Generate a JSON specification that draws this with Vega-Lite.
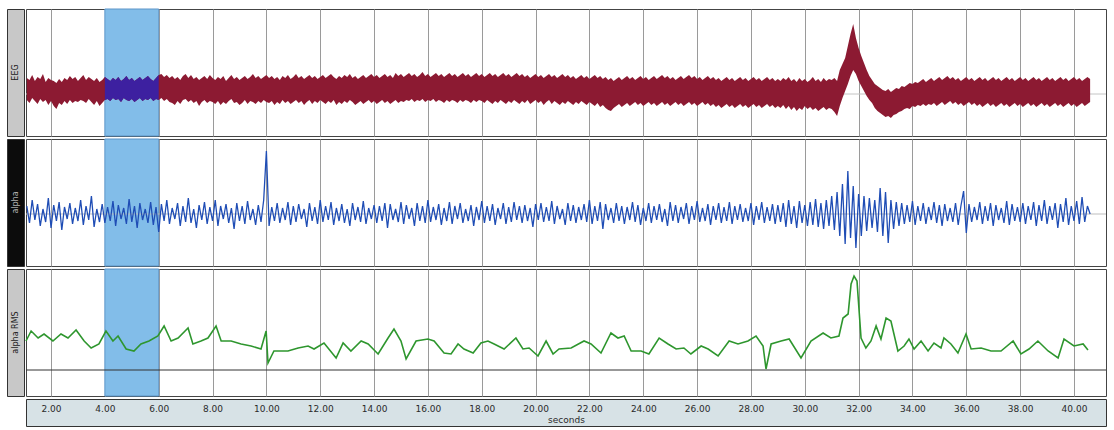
{
  "$schema": "https://vega.github.io/schema/vega-lite/v6.json",
  "padding": {"left": 6, "top": 8, "right": 3, "bottom": 5},
  "background": "white",
  "bounds": "flush",
  "columns": 2,
  "spacing": {"row": 3, "column": 2},
  "config": {"font": "DejaVu Sans"},
  "datasets": {
    "band": [{"start": 4, "end": 6}],
    "s": [
{"t":1.1,"h":58,"l":36,"a":60},{"t":1.2,"h":56,"l":33,"a":43},{"t":1.3,"h":61,"l":38,"a":66},{"t":1.4,"h":55,"l":35,"a":46},{"t":1.5,"h":59,"l":32,"a":62},{"t":1.6,"h":57,"l":37,"a":40},{"t":1.7,"h":62,"l":34,"a":57},{"t":1.8,"h":54,"l":36,"a":44},{"t":1.9,"h":58,"l":31,"a":68},{"t":2.0,"h":56,"l":35,"a":38},
{"t":2.1,"h":55,"l":30,"a":61},{"t":2.2,"h":53,"l":27,"a":45},{"t":2.3,"h":57,"l":33,"a":64},{"t":2.4,"h":54,"l":31,"a":36},{"t":2.5,"h":58,"l":35,"a":59},{"t":2.6,"h":56,"l":32,"a":47},{"t":2.7,"h":60,"l":36,"a":63},{"t":2.8,"h":57,"l":33,"a":42},{"t":2.9,"h":59,"l":35,"a":58},{"t":3.0,"h":55,"l":34,"a":45},
{"t":3.1,"h":58,"l":36,"a":66},{"t":3.2,"h":61,"l":35,"a":41},{"t":3.3,"h":56,"l":33,"a":60},{"t":3.4,"h":59,"l":37,"a":46},{"t":3.5,"h":57,"l":34,"a":70},{"t":3.6,"h":55,"l":31,"a":39},{"t":3.7,"h":58,"l":35,"a":57},{"t":3.8,"h":54,"l":30,"a":44},{"t":3.9,"h":56,"l":33,"a":62},{"t":4.0,"h":59,"l":36,"a":43},
{"t":4.1,"h":57,"l":37,"a":59},{"t":4.2,"h":55,"l":35,"a":45},{"t":4.3,"h":58,"l":38,"a":65},{"t":4.4,"h":56,"l":36,"a":40},{"t":4.5,"h":59,"l":37,"a":61},{"t":4.6,"h":55,"l":34,"a":47},{"t":4.7,"h":57,"l":38,"a":58},{"t":4.8,"h":60,"l":36,"a":42},{"t":4.9,"h":56,"l":35,"a":67},{"t":5.0,"h":58,"l":37,"a":44},
{"t":5.1,"h":55,"l":34,"a":60},{"t":5.2,"h":57,"l":36,"a":38},{"t":5.3,"h":59,"l":38,"a":63},{"t":5.4,"h":56,"l":35,"a":46},{"t":5.5,"h":58,"l":37,"a":57},{"t":5.6,"h":60,"l":36,"a":43},{"t":5.7,"h":57,"l":38,"a":64},{"t":5.8,"h":55,"l":35,"a":41},{"t":5.9,"h":58,"l":37,"a":59},{"t":6.0,"h":61,"l":36,"a":34},
{"t":6.1,"h":62,"l":38,"a":62},{"t":6.2,"h":59,"l":35,"a":45},{"t":6.3,"h":61,"l":37,"a":66},{"t":6.4,"h":58,"l":34,"a":42},{"t":6.5,"h":60,"l":33,"a":58},{"t":6.6,"h":57,"l":31,"a":47},{"t":6.7,"h":59,"l":35,"a":63},{"t":6.8,"h":56,"l":32,"a":40},{"t":6.9,"h":60,"l":36,"a":60},{"t":7.0,"h":62,"l":37,"a":44},
{"t":7.1,"h":58,"l":34,"a":68},{"t":7.2,"h":61,"l":36,"a":43},{"t":7.3,"h":57,"l":33,"a":57},{"t":7.4,"h":59,"l":35,"a":38},{"t":7.5,"h":56,"l":30,"a":61},{"t":7.6,"h":58,"l":34,"a":46},{"t":7.7,"h":60,"l":36,"a":64},{"t":7.8,"h":57,"l":33,"a":42},{"t":7.9,"h":61,"l":35,"a":59},{"t":8.0,"h":58,"l":34,"a":45},
{"t":8.1,"h":56,"l":32,"a":66},{"t":8.2,"h":59,"l":35,"a":40},{"t":8.3,"h":57,"l":31,"a":60},{"t":8.4,"h":60,"l":34,"a":47},{"t":8.5,"h":55,"l":32,"a":62},{"t":8.6,"h":58,"l":35,"a":43},{"t":8.7,"h":61,"l":37,"a":58},{"t":8.8,"h":57,"l":33,"a":37},{"t":8.9,"h":59,"l":34,"a":63},{"t":9.0,"h":56,"l":31,"a":45},
{"t":9.1,"h":58,"l":33,"a":60},{"t":9.2,"h":60,"l":36,"a":42},{"t":9.3,"h":57,"l":32,"a":65},{"t":9.4,"h":59,"l":35,"a":46},{"t":9.5,"h":62,"l":34,"a":57},{"t":9.6,"h":58,"l":32,"a":41},{"t":9.7,"h":60,"l":35,"a":61},{"t":9.8,"h":57,"l":33,"a":44},{"t":9.9,"h":59,"l":36,"a":66},{"t":10.0,"h":61,"l":34,"a":115},
{"t":10.1,"h":58,"l":33,"a":40},{"t":10.2,"h":60,"l":35,"a":59},{"t":10.3,"h":57,"l":31,"a":45},{"t":10.4,"h":59,"l":34,"a":63},{"t":10.5,"h":56,"l":32,"a":43},{"t":10.6,"h":60,"l":36,"a":58},{"t":10.7,"h":58,"l":33,"a":46},{"t":10.8,"h":61,"l":35,"a":64},{"t":10.9,"h":57,"l":32,"a":41},{"t":11.0,"h":59,"l":34,"a":60},
{"t":11.1,"h":62,"l":36,"a":44},{"t":11.2,"h":58,"l":33,"a":62},{"t":11.3,"h":60,"l":35,"a":47},{"t":11.4,"h":57,"l":31,"a":57},{"t":11.5,"h":59,"l":34,"a":39},{"t":11.6,"h":61,"l":36,"a":63},{"t":11.7,"h":58,"l":32,"a":45},{"t":11.8,"h":60,"l":35,"a":59},{"t":11.9,"h":57,"l":33,"a":42},{"t":12.0,"h":59,"l":36,"a":66},
{"t":12.1,"h":61,"l":34,"a":44},{"t":12.2,"h":58,"l":32,"a":60},{"t":12.3,"h":60,"l":35,"a":46},{"t":12.4,"h":62,"l":33,"a":64},{"t":12.5,"h":59,"l":36,"a":41},{"t":12.6,"h":57,"l":31,"a":58},{"t":12.7,"h":60,"l":34,"a":45},{"t":12.8,"h":58,"l":32,"a":62},{"t":12.9,"h":61,"l":35,"a":43},{"t":13.0,"h":59,"l":33,"a":57},
{"t":13.1,"h":62,"l":36,"a":40},{"t":13.2,"h":58,"l":34,"a":63},{"t":13.3,"h":60,"l":31,"a":46},{"t":13.4,"h":57,"l":33,"a":59},{"t":13.5,"h":59,"l":35,"a":44},{"t":13.6,"h":61,"l":32,"a":65},{"t":13.7,"h":58,"l":34,"a":42},{"t":13.8,"h":60,"l":36,"a":58},{"t":13.9,"h":62,"l":33,"a":47},{"t":14.0,"h":59,"l":35,"a":61},
{"t":14.1,"h":61,"l":32,"a":43},{"t":14.2,"h":58,"l":34,"a":60},{"t":14.3,"h":60,"l":36,"a":45},{"t":14.4,"h":62,"l":33,"a":63},{"t":14.5,"h":59,"l":35,"a":38},{"t":14.6,"h":61,"l":32,"a":62},{"t":14.7,"h":58,"l":34,"a":46},{"t":14.8,"h":63,"l":36,"a":57},{"t":14.9,"h":60,"l":33,"a":44},{"t":15.0,"h":62,"l":35,"a":64},
{"t":15.1,"h":59,"l":34,"a":42},{"t":15.2,"h":61,"l":36,"a":61},{"t":15.3,"h":63,"l":35,"a":47},{"t":15.4,"h":60,"l":37,"a":58},{"t":15.5,"h":62,"l":34,"a":40},{"t":15.6,"h":59,"l":36,"a":63},{"t":15.7,"h":61,"l":35,"a":45},{"t":15.8,"h":64,"l":37,"a":60},{"t":15.9,"h":60,"l":34,"a":43},{"t":16.0,"h":62,"l":36,"a":66},
{"t":16.1,"h":59,"l":35,"a":44},{"t":16.2,"h":61,"l":37,"a":59},{"t":16.3,"h":63,"l":34,"a":46},{"t":16.4,"h":60,"l":36,"a":62},{"t":16.5,"h":62,"l":35,"a":41},{"t":16.6,"h":59,"l":33,"a":58},{"t":16.7,"h":61,"l":36,"a":45},{"t":16.8,"h":63,"l":34,"a":64},{"t":16.9,"h":60,"l":36,"a":42},{"t":17.0,"h":62,"l":35,"a":60},
{"t":17.1,"h":59,"l":33,"a":47},{"t":17.2,"h":61,"l":36,"a":63},{"t":17.3,"h":63,"l":34,"a":43},{"t":17.4,"h":60,"l":36,"a":57},{"t":17.5,"h":62,"l":35,"a":45},{"t":17.6,"h":59,"l":33,"a":61},{"t":17.7,"h":61,"l":36,"a":40},{"t":17.8,"h":63,"l":34,"a":59},{"t":17.9,"h":60,"l":36,"a":46},{"t":18.0,"h":62,"l":35,"a":65},
{"t":18.1,"h":59,"l":33,"a":43},{"t":18.2,"h":61,"l":36,"a":60},{"t":18.3,"h":63,"l":34,"a":45},{"t":18.4,"h":60,"l":32,"a":62},{"t":18.5,"h":62,"l":35,"a":41},{"t":18.6,"h":59,"l":33,"a":58},{"t":18.7,"h":61,"l":36,"a":47},{"t":18.8,"h":63,"l":34,"a":63},{"t":18.9,"h":60,"l":32,"a":42},{"t":19.0,"h":62,"l":35,"a":59},
{"t":19.1,"h":59,"l":33,"a":44},{"t":19.2,"h":61,"l":36,"a":64},{"t":19.3,"h":63,"l":34,"a":46},{"t":19.4,"h":60,"l":32,"a":60},{"t":19.5,"h":62,"l":35,"a":43},{"t":19.6,"h":59,"l":33,"a":61},{"t":19.7,"h":61,"l":36,"a":45},{"t":19.8,"h":58,"l":32,"a":58},{"t":19.9,"h":60,"l":34,"a":39},{"t":20.0,"h":62,"l":36,"a":62},
{"t":20.1,"h":59,"l":33,"a":46},{"t":20.2,"h":61,"l":35,"a":63},{"t":20.3,"h":58,"l":31,"a":44},{"t":20.4,"h":60,"l":34,"a":59},{"t":20.5,"h":62,"l":36,"a":45},{"t":20.6,"h":59,"l":32,"a":65},{"t":20.7,"h":61,"l":35,"a":42},{"t":20.8,"h":58,"l":33,"a":60},{"t":20.9,"h":60,"l":31,"a":47},{"t":21.0,"h":62,"l":34,"a":57},
{"t":21.1,"h":59,"l":32,"a":41},{"t":21.2,"h":61,"l":35,"a":63},{"t":21.3,"h":58,"l":33,"a":45},{"t":21.4,"h":60,"l":31,"a":61},{"t":21.5,"h":57,"l":34,"a":43},{"t":21.6,"h":59,"l":32,"a":59},{"t":21.7,"h":61,"l":35,"a":46},{"t":21.8,"h":58,"l":33,"a":62},{"t":21.9,"h":60,"l":31,"a":44},{"t":22.0,"h":57,"l":34,"a":66},
{"t":22.1,"h":59,"l":32,"a":42},{"t":22.2,"h":61,"l":30,"a":60},{"t":22.3,"h":58,"l":33,"a":45},{"t":22.4,"h":60,"l":29,"a":64},{"t":22.5,"h":57,"l":31,"a":37},{"t":22.6,"h":59,"l":28,"a":62},{"t":22.7,"h":56,"l":26,"a":46},{"t":22.8,"h":58,"l":25,"a":58},{"t":22.9,"h":55,"l":28,"a":43},{"t":23.0,"h":57,"l":30,"a":63},
{"t":23.1,"h":59,"l":32,"a":45},{"t":23.2,"h":56,"l":29,"a":60},{"t":23.3,"h":58,"l":31,"a":42},{"t":23.4,"h":60,"l":33,"a":59},{"t":23.5,"h":57,"l":30,"a":46},{"t":23.6,"h":59,"l":32,"a":64},{"t":23.7,"h":56,"l":34,"a":44},{"t":23.8,"h":58,"l":31,"a":61},{"t":23.9,"h":60,"l":33,"a":41},{"t":24.0,"h":57,"l":30,"a":58},
{"t":24.1,"h":59,"l":32,"a":45},{"t":24.2,"h":56,"l":34,"a":63},{"t":24.3,"h":58,"l":31,"a":43},{"t":24.4,"h":60,"l":33,"a":60},{"t":24.5,"h":57,"l":30,"a":46},{"t":24.6,"h":59,"l":32,"a":62},{"t":24.7,"h":61,"l":34,"a":44},{"t":24.8,"h":58,"l":31,"a":57},{"t":24.9,"h":60,"l":33,"a":40},{"t":25.0,"h":57,"l":30,"a":64},
{"t":25.1,"h":59,"l":32,"a":45},{"t":25.2,"h":56,"l":34,"a":61},{"t":25.3,"h":58,"l":31,"a":43},{"t":25.4,"h":60,"l":33,"a":59},{"t":25.5,"h":57,"l":30,"a":47},{"t":25.6,"h":59,"l":32,"a":63},{"t":25.7,"h":61,"l":34,"a":42},{"t":25.8,"h":58,"l":31,"a":60},{"t":25.9,"h":60,"l":33,"a":46},{"t":26.0,"h":57,"l":30,"a":65},
{"t":26.1,"h":59,"l":32,"a":44},{"t":26.2,"h":56,"l":34,"a":58},{"t":26.3,"h":58,"l":31,"a":45},{"t":26.4,"h":60,"l":33,"a":62},{"t":26.5,"h":57,"l":30,"a":41},{"t":26.6,"h":59,"l":32,"a":60},{"t":26.7,"h":56,"l":29,"a":46},{"t":26.8,"h":58,"l":31,"a":63},{"t":26.9,"h":55,"l":28,"a":43},{"t":27.0,"h":57,"l":30,"a":59},
{"t":27.1,"h":59,"l":32,"a":45},{"t":27.2,"h":56,"l":29,"a":64},{"t":27.3,"h":58,"l":31,"a":42},{"t":27.4,"h":55,"l":28,"a":60},{"t":27.5,"h":57,"l":30,"a":46},{"t":27.6,"h":59,"l":32,"a":62},{"t":27.7,"h":56,"l":29,"a":44},{"t":27.8,"h":58,"l":31,"a":58},{"t":27.9,"h":55,"l":28,"a":45},{"t":28.0,"h":57,"l":30,"a":63},
{"t":28.1,"h":59,"l":32,"a":41},{"t":28.2,"h":56,"l":29,"a":60},{"t":28.3,"h":58,"l":31,"a":46},{"t":28.4,"h":55,"l":28,"a":64},{"t":28.5,"h":57,"l":30,"a":43},{"t":28.6,"h":59,"l":32,"a":59},{"t":28.7,"h":56,"l":29,"a":45},{"t":28.8,"h":58,"l":31,"a":62},{"t":28.9,"h":55,"l":28,"a":42},{"t":29.0,"h":57,"l":30,"a":61},
{"t":29.1,"h":55,"l":28,"a":44},{"t":29.2,"h":58,"l":31,"a":63},{"t":29.3,"h":56,"l":27,"a":39},{"t":29.4,"h":59,"l":30,"a":66},{"t":29.5,"h":55,"l":26,"a":42},{"t":29.6,"h":57,"l":29,"a":60},{"t":29.7,"h":54,"l":25,"a":38},{"t":29.8,"h":58,"l":28,"a":65},{"t":29.9,"h":55,"l":26,"a":43},{"t":30.0,"h":57,"l":30,"a":61},
{"t":30.1,"h":54,"l":27,"a":40},{"t":30.2,"h":56,"l":29,"a":64},{"t":30.3,"h":59,"l":26,"a":41},{"t":30.4,"h":55,"l":28,"a":67},{"t":30.5,"h":57,"l":25,"a":39},{"t":30.6,"h":54,"l":27,"a":63},{"t":30.7,"h":58,"l":29,"a":37},{"t":30.8,"h":55,"l":26,"a":66},{"t":30.9,"h":57,"l":28,"a":40},{"t":31.0,"h":56,"l":27,"a":70},
{"t":31.1,"h":58,"l":24,"a":36},{"t":31.2,"h":55,"l":20,"a":74},{"t":31.3,"h":66,"l":30,"a":30},{"t":31.4,"h":72,"l":38,"a":82},{"t":31.5,"h":78,"l":45,"a":22},{"t":31.6,"h":90,"l":52,"a":95},{"t":31.7,"h":102,"l":60,"a":28},{"t":31.8,"h":112,"l":66,"a":80},{"t":31.9,"h":98,"l":62,"a":18},{"t":32.0,"h":88,"l":55,"a":72},
{"t":32.1,"h":80,"l":50,"a":30},{"t":32.2,"h":73,"l":45,"a":70},{"t":32.3,"h":66,"l":40,"a":35},{"t":32.4,"h":60,"l":36,"a":68},{"t":32.5,"h":56,"l":33,"a":38},{"t":32.6,"h":52,"l":28,"a":66},{"t":32.7,"h":50,"l":25,"a":34},{"t":32.8,"h":48,"l":23,"a":78},{"t":32.9,"h":46,"l":21,"a":30},{"t":33.0,"h":45,"l":19,"a":74},
{"t":33.1,"h":47,"l":20,"a":23},{"t":33.2,"h":44,"l":18,"a":66},{"t":33.3,"h":46,"l":21,"a":37},{"t":33.4,"h":48,"l":22,"a":64},{"t":33.5,"h":47,"l":24,"a":40},{"t":33.6,"h":50,"l":25,"a":63},{"t":33.7,"h":49,"l":27,"a":42},{"t":33.8,"h":51,"l":28,"a":61},{"t":33.9,"h":53,"l":27,"a":44},{"t":34.0,"h":52,"l":30,"a":65},
{"t":34.1,"h":54,"l":29,"a":41},{"t":34.2,"h":53,"l":31,"a":60},{"t":34.3,"h":55,"l":30,"a":45},{"t":34.4,"h":57,"l":32,"a":63},{"t":34.5,"h":54,"l":30,"a":42},{"t":34.6,"h":56,"l":32,"a":59},{"t":34.7,"h":58,"l":31,"a":46},{"t":34.8,"h":55,"l":33,"a":64},{"t":34.9,"h":57,"l":30,"a":43},{"t":35.0,"h":59,"l":32,"a":61},
{"t":35.1,"h":56,"l":34,"a":40},{"t":35.2,"h":58,"l":31,"a":62},{"t":35.3,"h":60,"l":33,"a":45},{"t":35.4,"h":57,"l":35,"a":58},{"t":35.5,"h":59,"l":32,"a":44},{"t":35.6,"h":56,"l":34,"a":63},{"t":35.7,"h":58,"l":31,"a":41},{"t":35.8,"h":55,"l":33,"a":60},{"t":35.9,"h":57,"l":30,"a":75},{"t":36.0,"h":59,"l":32,"a":33},
{"t":36.1,"h":56,"l":34,"a":62},{"t":36.2,"h":58,"l":31,"a":44},{"t":36.3,"h":55,"l":33,"a":59},{"t":36.4,"h":57,"l":30,"a":46},{"t":36.5,"h":59,"l":32,"a":64},{"t":36.6,"h":56,"l":29,"a":42},{"t":36.7,"h":58,"l":31,"a":60},{"t":36.8,"h":55,"l":33,"a":45},{"t":36.9,"h":57,"l":30,"a":63},{"t":37.0,"h":59,"l":32,"a":40},
{"t":37.1,"h":56,"l":29,"a":61},{"t":37.2,"h":58,"l":31,"a":46},{"t":37.3,"h":55,"l":33,"a":58},{"t":37.4,"h":57,"l":30,"a":43},{"t":37.5,"h":59,"l":32,"a":65},{"t":37.6,"h":56,"l":29,"a":41},{"t":37.7,"h":58,"l":31,"a":62},{"t":37.8,"h":55,"l":33,"a":45},{"t":37.9,"h":57,"l":30,"a":59},{"t":38.0,"h":59,"l":32,"a":44},
{"t":38.1,"h":56,"l":29,"a":63},{"t":38.2,"h":58,"l":31,"a":42},{"t":38.3,"h":55,"l":33,"a":60},{"t":38.4,"h":57,"l":30,"a":46},{"t":38.5,"h":59,"l":32,"a":64},{"t":38.6,"h":56,"l":29,"a":40},{"t":38.7,"h":58,"l":31,"a":61},{"t":38.8,"h":55,"l":33,"a":45},{"t":38.9,"h":57,"l":30,"a":66},{"t":39.0,"h":59,"l":32,"a":42},
{"t":39.1,"h":56,"l":29,"a":60},{"t":39.2,"h":58,"l":31,"a":46},{"t":39.3,"h":55,"l":33,"a":63},{"t":39.4,"h":57,"l":30,"a":38},{"t":39.5,"h":59,"l":32,"a":62},{"t":39.6,"h":56,"l":29,"a":44},{"t":39.7,"h":58,"l":31,"a":68},{"t":39.8,"h":55,"l":33,"a":41},{"t":39.9,"h":57,"l":30,"a":60},{"t":40.0,"h":59,"l":32,"a":45},
{"t":40.1,"h":56,"l":29,"a":65},{"t":40.2,"h":58,"l":31,"a":42},{"t":40.3,"h":55,"l":33,"a":69},{"t":40.4,"h":57,"l":30,"a":44},{"t":40.5,"h":59,"l":32,"a":60},{"t":40.6,"h":57,"l":34,"a":52}
    ],
    "r": [
{"t":1.07,"v":57},{"t":1.26,"v":67},{"t":1.52,"v":60},{"t":1.74,"v":64},{"t":2.07,"v":57},{"t":2.37,"v":64},{"t":2.63,"v":60},{"t":2.93,"v":68},{"t":3.23,"v":57},{"t":3.49,"v":50},{"t":3.78,"v":54},{"t":4.04,"v":67},{"t":4.3,"v":57},{"t":4.49,"v":62},{"t":4.79,"v":49},{"t":5.08,"v":47},{"t":5.34,"v":54},{"t":5.64,"v":57},{"t":5.97,"v":62},{"t":6.2,"v":72},{"t":6.46,"v":57},{"t":6.72,"v":60},{"t":7.09,"v":70},{"t":7.27,"v":54},{"t":7.57,"v":57},{"t":7.83,"v":60},{"t":8.13,"v":72},{"t":8.32,"v":57},{"t":8.69,"v":57},{"t":9.06,"v":54},{"t":9.43,"v":52},{"t":9.8,"v":49},{"t":9.99,"v":67},{"t":10.06,"v":35},{"t":10.28,"v":47},{"t":10.8,"v":47},{"t":11.18,"v":50},{"t":11.55,"v":52},{"t":11.77,"v":49},{"t":12.14,"v":55},{"t":12.59,"v":40},{"t":12.85,"v":55},{"t":13.14,"v":47},{"t":13.52,"v":57},{"t":13.78,"v":54},{"t":14.15,"v":44},{"t":14.52,"v":60},{"t":14.74,"v":69},{"t":15.0,"v":57},{"t":15.19,"v":39},{"t":15.56,"v":57},{"t":16.0,"v":59},{"t":16.23,"v":57},{"t":16.6,"v":45},{"t":16.86,"v":44},{"t":17.12,"v":54},{"t":17.34,"v":49},{"t":17.68,"v":45},{"t":17.97,"v":55},{"t":18.23,"v":57},{"t":18.46,"v":54},{"t":18.83,"v":49},{"t":19.27,"v":60},{"t":19.53,"v":49},{"t":19.76,"v":50},{"t":20.09,"v":42},{"t":20.39,"v":57},{"t":20.65,"v":44},{"t":20.87,"v":49},{"t":21.32,"v":50},{"t":21.8,"v":57},{"t":22.06,"v":54},{"t":22.43,"v":45},{"t":22.8,"v":65},{"t":23.06,"v":60},{"t":23.29,"v":62},{"t":23.55,"v":47},{"t":23.92,"v":47},{"t":24.21,"v":44},{"t":24.59,"v":60},{"t":24.92,"v":54},{"t":25.22,"v":49},{"t":25.51,"v":50},{"t":25.77,"v":44},{"t":26.15,"v":52},{"t":26.41,"v":49},{"t":26.78,"v":42},{"t":27.19,"v":57},{"t":27.52,"v":54},{"t":27.89,"v":57},{"t":28.19,"v":62},{"t":28.45,"v":52},{"t":28.56,"v":29},{"t":28.75,"v":54},{"t":29.12,"v":57},{"t":29.42,"v":59},{"t":29.86,"v":40},{"t":30.23,"v":57},{"t":30.68,"v":65},{"t":30.97,"v":60},{"t":31.27,"v":62},{"t":31.42,"v":80},{"t":31.61,"v":84},{"t":31.72,"v":114},{"t":31.83,"v":122},{"t":31.94,"v":117},{"t":32.09,"v":60},{"t":32.27,"v":50},{"t":32.46,"v":57},{"t":32.65,"v":72},{"t":32.83,"v":59},{"t":33.02,"v":80},{"t":33.2,"v":77},{"t":33.46,"v":47},{"t":33.69,"v":52},{"t":33.87,"v":59},{"t":34.06,"v":49},{"t":34.32,"v":57},{"t":34.58,"v":47},{"t":34.8,"v":55},{"t":35.06,"v":50},{"t":35.17,"v":60},{"t":35.43,"v":54},{"t":35.69,"v":45},{"t":35.99,"v":64},{"t":36.18,"v":49},{"t":36.55,"v":50},{"t":36.92,"v":47},{"t":37.29,"v":47},{"t":37.74,"v":57},{"t":38.03,"v":44},{"t":38.33,"v":49},{"t":38.66,"v":57},{"t":39.04,"v":47},{"t":39.41,"v":40},{"t":39.63,"v":59},{"t":40.0,"v":52},{"t":40.34,"v":54},{"t":40.52,"v":48}
    ]
  },
  "concat": [
    {
      "width": 17, "height": 127,
      "view": {"fill": "#c8c8c8", "stroke": "#333"},
      "data": {"values": [{"n": "EEG"}]},
      "mark": {"type": "text", "angle": 270, "fontSize": 8, "color": "#222"},
      "encoding": {"text": {"field": "n"}}
    },
    {
      "width": 1080, "height": 127,
      "view": {"fill": "white", "stroke": "#444"},
      "layer": [
        {
          "data": {"name": "band"},
          "mark": {"type": "rect", "color": "#82bde9", "stroke": "#5d95c8", "strokeWidth": 1},
          "encoding": {
            "x": {"field": "start", "type": "quantitative", "scale": {"domain": [1.07, 41.19], "nice": false, "zero": false},
                  "axis": {"values": [2,4,6,8,10,12,14,16,18,20,22,24,26,28,30,32,34,36,38,40], "grid": true, "gridColor": "#9a9a9a", "gridWidth": 1, "labels": false, "ticks": false, "domain": false, "title": null}},
            "x2": {"field": "end"}
          }
        },
        {
          "data": {"values": [{"v": 42}]},
          "mark": {"type": "rule", "color": "#c4c4c4"},
          "encoding": {"y": {"field": "v", "type": "quantitative", "scale": {"domain": [0, 127], "nice": false, "zero": false}, "axis": null}}
        },
        {
          "data": {"name": "s"},
          "mark": {"type": "area", "color": "#8c1a32"},
          "encoding": {
            "x": {"field": "t", "type": "quantitative", "scale": {"domain": [1.07, 41.19], "nice": false, "zero": false},
                  "axis": {"values": [2,4,6,8,10,12,14,16,18,20,22,24,26,28,30,32,34,36,38,40], "grid": true, "gridColor": "#9a9a9a", "gridWidth": 1, "labels": false, "ticks": false, "domain": false, "title": null}},
            "y": {"field": "h", "type": "quantitative", "scale": {"domain": [0, 127], "nice": false, "zero": false}, "axis": null},
            "y2": {"field": "l"}
          }
        },
        {
          "data": {"name": "s"},
          "transform": [{"filter": {"field": "t", "range": [4, 6]}}],
          "mark": {"type": "area", "color": "#3d20a0"},
          "encoding": {
            "x": {"field": "t", "type": "quantitative", "scale": {"domain": [1.07, 41.19], "nice": false, "zero": false},
                  "axis": {"values": [2,4,6,8,10,12,14,16,18,20,22,24,26,28,30,32,34,36,38,40], "grid": true, "gridColor": "#9a9a9a", "gridWidth": 1, "labels": false, "ticks": false, "domain": false, "title": null}},
            "y": {"field": "h", "type": "quantitative", "scale": {"domain": [0, 127], "nice": false, "zero": false}, "axis": null},
            "y2": {"field": "l"}
          }
        }
      ]
    },
    {
      "width": 17, "height": 127,
      "view": {"fill": "#0c0c0c", "stroke": "#333"},
      "data": {"values": [{"n": "alpha"}]},
      "mark": {"type": "text", "angle": 270, "fontSize": 8, "color": "#b0b0b0"},
      "encoding": {"text": {"field": "n"}}
    },
    {
      "width": 1080, "height": 127,
      "view": {"fill": "white", "stroke": "#444"},
      "layer": [
        {
          "data": {"name": "band"},
          "mark": {"type": "rect", "color": "#82bde9", "stroke": "#5d95c8", "strokeWidth": 1},
          "encoding": {
            "x": {"field": "start", "type": "quantitative", "scale": {"domain": [1.07, 41.19], "nice": false, "zero": false},
                  "axis": {"values": [2,4,6,8,10,12,14,16,18,20,22,24,26,28,30,32,34,36,38,40], "grid": true, "gridColor": "#9a9a9a", "gridWidth": 1, "labels": false, "ticks": false, "domain": false, "title": null}},
            "x2": {"field": "end"}
          }
        },
        {
          "data": {"values": [{"v": 52}]},
          "mark": {"type": "rule", "color": "#bdbdbd"},
          "encoding": {"y": {"field": "v", "type": "quantitative", "scale": {"domain": [0, 127], "nice": false, "zero": false}, "axis": null}}
        },
        {
          "data": {"name": "s"},
          "mark": {"type": "line", "color": "#1f4db5", "strokeWidth": 1.3},
          "encoding": {
            "x": {"field": "t", "type": "quantitative", "scale": {"domain": [1.07, 41.19], "nice": false, "zero": false},
                  "axis": {"values": [2,4,6,8,10,12,14,16,18,20,22,24,26,28,30,32,34,36,38,40], "grid": true, "gridColor": "#9a9a9a", "gridWidth": 1, "labels": false, "ticks": false, "domain": false, "title": null}},
            "y": {"field": "a", "type": "quantitative", "scale": {"domain": [0, 127], "nice": false, "zero": false}, "axis": null}
          }
        }
      ]
    },
    {
      "width": 17, "height": 127,
      "view": {"fill": "#c8c8c8", "stroke": "#333"},
      "data": {"values": [{"n": "alpha RMS"}]},
      "mark": {"type": "text", "angle": 270, "fontSize": 8, "color": "#222"},
      "encoding": {"text": {"field": "n"}}
    },
    {
      "width": 1080, "height": 127,
      "view": {"fill": "white", "stroke": "#444"},
      "layer": [
        {
          "data": {"name": "band"},
          "mark": {"type": "rect", "color": "#82bde9", "stroke": "#5d95c8", "strokeWidth": 1},
          "encoding": {
            "x": {"field": "start", "type": "quantitative", "scale": {"domain": [1.07, 41.19], "nice": false, "zero": false},
                  "axis": {"values": [2,4,6,8,10,12,14,16,18,20,22,24,26,28,30,32,34,36,38,40], "grid": true, "gridColor": "#9a9a9a", "gridWidth": 1, "labels": false, "ticks": false, "domain": false, "title": null}},
            "x2": {"field": "end"}
          }
        },
        {
          "data": {"values": [{"v": 28}]},
          "mark": {"type": "rule", "color": "#333"},
          "encoding": {"y": {"field": "v", "type": "quantitative", "scale": {"domain": [2, 129], "nice": false, "zero": false}, "axis": null}}
        },
        {
          "data": {"name": "r"},
          "mark": {"type": "line", "color": "#2e962e", "strokeWidth": 1.6},
          "encoding": {
            "x": {"field": "t", "type": "quantitative", "scale": {"domain": [1.07, 41.19], "nice": false, "zero": false},
                  "axis": {"values": [2,4,6,8,10,12,14,16,18,20,22,24,26,28,30,32,34,36,38,40], "grid": true, "gridColor": "#9a9a9a", "gridWidth": 1, "labels": false, "ticks": false, "domain": false, "title": null}},
            "y": {"field": "v", "type": "quantitative", "scale": {"domain": [2, 129], "nice": false, "zero": false}, "axis": null}
          }
        }
      ]
    },
    {
      "width": 17, "height": 27,
      "view": {"stroke": null, "fill": null},
      "data": {"values": [{"n": ""}]},
      "mark": {"type": "text"},
      "encoding": {"text": {"field": "n"}}
    },
    {
      "width": 1080, "height": 27,
      "view": {"fill": "#d7e2e6", "stroke": "#333"},
      "data": {"name": "r"},
      "mark": {"type": "point", "opacity": 0},
      "encoding": {
        "x": {"field": "t", "type": "quantitative", "scale": {"domain": [1.07, 41.19], "nice": false, "zero": false},
              "axis": {"values": [2,4,6,8,10,12,14,16,18,20,22,24,26,28,30,32,34,36,38,40], "format": ".2f", "grid": false, "ticks": false, "tickSize": 0, "domain": false, "labelPadding": -22, "labelFontSize": 9, "labelColor": "#2a2a2a", "labelFont": "DejaVu Sans", "labelFlush": false, "labelOverlap": false, "title": "seconds", "titleFont": "DejaVu Sans", "titleFontSize": 9, "titleFontWeight": "normal", "titleColor": "#2a2a2a", "titleY": -2, "titleBaseline": "bottom"}}
      }
    }
  ]
}
